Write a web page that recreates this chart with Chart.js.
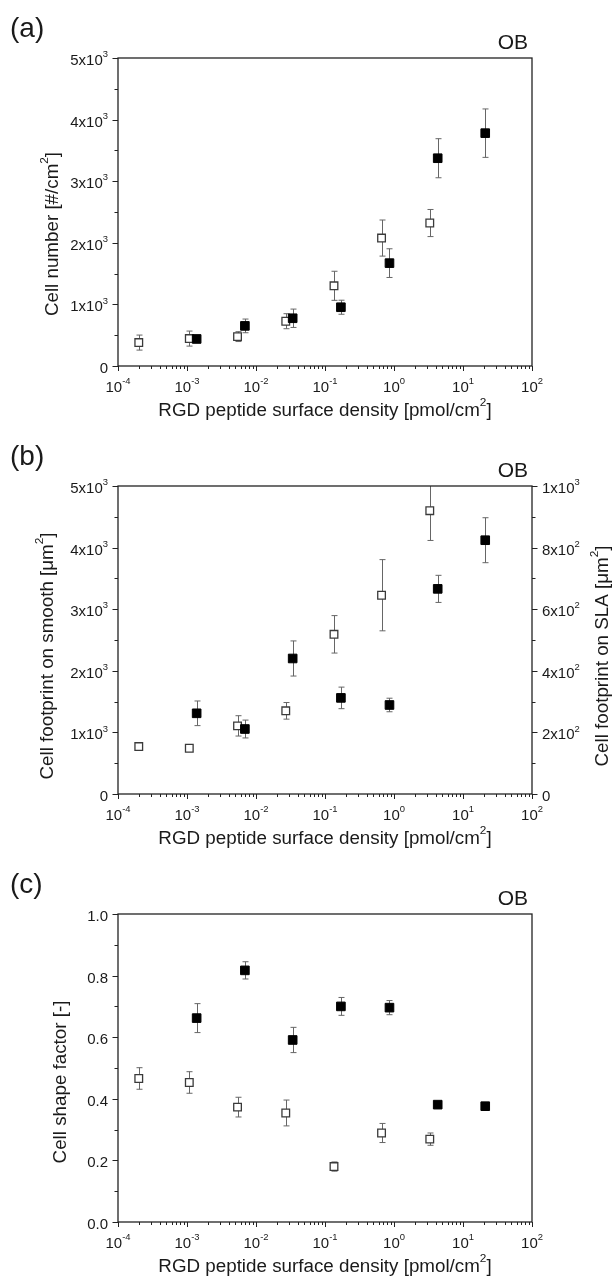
<!DOCTYPE html>
<html>
<head>
<meta charset="utf-8">
<title>OB cell response vs RGD density</title>
<script src="https://cdn.jsdelivr.net/npm/chart.js@4.4.1/dist/chart.umd.min.js"></script>
<style>
  body { margin: 0; background: #fff; }
  .panel { position: absolute; left: 0; width: 612px; height: 428px; }
</style>
</head>
<body>
<div class="panel" style="top:0px"><canvas id="panelA" width="612" height="428"></canvas></div>
<div class="panel" style="top:428px"><canvas id="panelB" width="612" height="428"></canvas></div>
<div class="panel" style="top:856px"><canvas id="panelC" width="612" height="428"></canvas></div>
<script>
// RGD surface density [pmol/cm2] of the samples (open = smooth, filled = SLA)
const smoothX = [2.0e-4, 1.08e-3, 5.4e-3, 2.7e-2, 0.135, 0.66, 3.3];
const slaX = [1.38e-3, 6.9e-3, 3.4e-2, 0.17, 0.86, 4.3, 21];

// (a) cell number [#/cm2]
const countSmooth = [380, 445, 477, 727, 1302, 2077, 2321];
const countSmoothErr = [122, 122, 80, 122, 236, 293, 220];
const countSla = [439, 651, 775, 954, 1670, 3373, 3780];
const countSlaErr = [20, 111, 149, 114, 233, 317, 393];

// (b) cell footprint [um2], smooth on left axis, SLA on right axis
const footSmooth = [770, 743, 1106, 1350, 2592, 3227, 4599];
const footSmoothErr = [15, 15, 165, 135, 304, 578, 483];
const footSla = [262, 211, 440, 312, 289, 666, 824];
const footSlaErr = [40, 29, 57, 35, 22, 44, 73];

// (c) cell shape factor [-]
const shapeSmooth = [0.466, 0.453, 0.373, 0.354, 0.180, 0.289, 0.269];
const shapeSmoothErr = [0.035, 0.035, 0.032, 0.042, 0.015, 0.031, 0.020];
const shapeSla = [0.662, 0.817, 0.591, 0.700, 0.696, 0.381, 0.376];
const shapeSlaErr = [0.047, 0.028, 0.041, 0.029, 0.023, 0.010, 0.010];

// tick labels
const xTicks = [1e-4, 1e-3, 1e-2, 1e-1, 1, 10, 100];
const xTickLabels = ['10^{-4}', '10^{-3}', '10^{-2}', '10^{-1}', '10^{0}', '10^{1}', '10^{2}'];
const bigTicks = [0, 1000, 2000, 3000, 4000, 5000];
const bigTickLabels = ['0', '1x10^{3}', '2x10^{3}', '3x10^{3}', '4x10^{3}', '5x10^{3}'];
const slaTicks = [0, 200, 400, 600, 800, 1000];
const slaTickLabels = ['0', '2x10^{2}', '4x10^{2}', '6x10^{2}', '8x10^{2}', '1x10^{3}'];
const shapeTicks = [0, 0.2, 0.4, 0.6, 0.8, 1.0];
const shapeTickLabels = ['0.0', '0.2', '0.4', '0.6', '0.8', '1.0'];

const xTitle = 'RGD peptide surface density [pmol/cm^{2}]';
const FONT = '"Liberation Sans", Arial, sans-serif';
const INK = '#1a1a1a';
const TITLE_SIZE = 18.8;

// draws text with ^{...} runs as small raised superscripts
function drawRich(ctx, text, x, y, size, align) {
  const runs = [];
  const re = /\^\{([^}]*)\}/g;
  let last = 0, m;
  while ((m = re.exec(text))) {
    if (m.index > last) runs.push({ t: text.slice(last, m.index), sup: false });
    runs.push({ t: m[1], sup: true });
    last = re.lastIndex;
  }
  if (last < text.length) runs.push({ t: text.slice(last), sup: false });
  const fontOf = r => (r.sup ? size * 0.63 : size) + 'px ' + FONT;
  let total = 0;
  runs.forEach(r => { ctx.font = fontOf(r); r.w = ctx.measureText(r.t).width; total += r.w; });
  let cx = align === 'center' ? x - total / 2 : (align === 'right' ? x - total : x);
  ctx.textAlign = 'left';
  ctx.textBaseline = 'alphabetic';
  runs.forEach(r => {
    ctx.font = fontOf(r);
    ctx.fillText(r.t, cx, r.sup ? y - size * 0.52 : y);
    cx += r.w;
  });
}

const errorBars = {
  id: 'errorBars',
  beforeDatasetsDraw(chart) {
    const ctx = chart.ctx, area = chart.chartArea;
    ctx.save();
    ctx.beginPath();
    ctx.rect(area.left, area.top, area.right - area.left, area.bottom - area.top);
    ctx.clip();
    ctx.strokeStyle = '#666';
    ctx.lineWidth = 1;
    chart.data.datasets.forEach(ds => {
      const xs = chart.scales.x, ys = chart.scales[ds.yAxisID];
      ds.data.forEach((p, i) => {
        const e = ds.errors[i];
        const px = Math.round(xs.getPixelForValue(p.x)) + 0.5;
        const top = ys.getPixelForValue(p.y + e);
        const bot = ys.getPixelForValue(p.y - e);
        ctx.beginPath();
        ctx.moveTo(px, top); ctx.lineTo(px, bot);
        ctx.moveTo(px - 3, top); ctx.lineTo(px + 3, top);
        ctx.moveTo(px - 3, bot); ctx.lineTo(px + 3, bot);
        ctx.stroke();
      });
    });
    ctx.restore();
  }
};

const frame = {
  id: 'frame',
  afterDatasetsDraw(chart, args, opts) {
    const ctx = chart.ctx, a = chart.chartArea;
    const xs = chart.scales.x;
    ctx.save();
    ctx.strokeStyle = '#222';
    ctx.lineWidth = 1.3;
    ctx.strokeRect(a.left, a.top, a.right - a.left, a.bottom - a.top);

    // x ticks: decades plus 2..9 minors, pointing down
    ctx.lineWidth = 1;
    ctx.beginPath();
    for (let e = -4; e <= 2; e++) {
      for (let k = 1; k <= 9; k++) {
        const v = k * Math.pow(10, e);
        if (v > xs.max * 1.0001) break;
        const px = Math.round(xs.getPixelForValue(v)) + 0.5;
        ctx.moveTo(px, a.bottom);
        ctx.lineTo(px, a.bottom + (k === 1 ? 5 : 3));
      }
    }
    // y ticks with a minor tick halfway
    opts.yAxes.forEach(ax => {
      const sc = chart.scales[ax.id];
      const dir = ax.id === 'y2' ? 1 : -1;
      const edge = ax.id === 'y2' ? a.right : a.left;
      ax.ticks.forEach((v, i) => {
        const py = Math.round(sc.getPixelForValue(v)) + 0.5;
        ctx.moveTo(edge, py); ctx.lineTo(edge + dir * 5.5, py);
        if (i < ax.ticks.length - 1) {
          const my = Math.round(sc.getPixelForValue((v + ax.ticks[i + 1]) / 2)) + 0.5;
          ctx.moveTo(edge, my); ctx.lineTo(edge + dir * 3.5, my);
        }
      });
    });
    ctx.stroke();

    ctx.fillStyle = INK;
    xTicks.forEach((v, i) => {
      drawRich(ctx, xTickLabels[i], xs.getPixelForValue(v), a.bottom + 25.7, 15, 'center');
    });
    opts.yAxes.forEach(ax => {
      const sc = chart.scales[ax.id];
      ax.ticks.forEach((v, i) => {
        const py = sc.getPixelForValue(v) + 7;
        if (ax.id === 'y2') drawRich(ctx, ax.labels[i], a.right + 10, py, 15, 'left');
        else drawRich(ctx, ax.labels[i], a.left - 10, py, 15, 'right');
      });
      // rotated axis title
      ctx.save();
      ctx.translate(ax.titleX, (a.top + a.bottom) / 2 + ax.shift);
      ctx.rotate(-Math.PI / 2);
      drawRich(ctx, ax.title, 0, 0, TITLE_SIZE, 'center');
      ctx.restore();
    });
    drawRich(ctx, xTitle, (a.left + a.right) / 2, 415.5, TITLE_SIZE, 'center');

    // panel letter and cell type
    ctx.font = '28px ' + FONT;
    ctx.textAlign = 'left';
    ctx.fillText(opts.letter, 10, 36.5);
    ctx.font = '21px ' + FONT;
    ctx.textAlign = 'right';
    ctx.fillText('OB', a.right - 4, 49.3);
    ctx.restore();
  }
};

function series(xs, ys, errs, filled, axisId) {
  return {
    data: xs.map((x, i) => ({ x: x, y: ys[i] })),
    errors: errs,
    yAxisID: axisId,
    pointStyle: 'rect',
    pointRadius: filled ? 6.1 : 5.4,
    backgroundColor: filled ? '#000' : '#fff',
    borderColor: filled ? '#000' : '#3a3a3a',
    borderWidth: filled ? 1 : 1.3,
    showLine: false
  };
}

function hiddenAxis(extra) {
  return Object.assign({
    ticks: { display: false },
    grid: { display: false },
    border: { display: false }
  }, extra);
}

function makePanel(canvasId, letter, datasets, yAxes) {
  const scales = {
    x: hiddenAxis({ type: 'logarithmic', min: 1e-4, max: 100, afterFit: s => { s.height = 62; } })
  };
  yAxes.forEach(ax => {
    scales[ax.id] = hiddenAxis({
      type: 'linear',
      position: ax.id === 'y2' ? 'right' : 'left',
      min: ax.ticks[0],
      max: ax.ticks[ax.ticks.length - 1],
      afterFit: s => { s.width = ax.id === 'y2' ? 80 : 118; }
    });
  });
  const hasRight = yAxes.some(ax => ax.id === 'y2');
  return new Chart(document.getElementById(canvasId), {
    type: 'scatter',
    data: { datasets: datasets },
    options: {
      responsive: false,
      animation: false,
      events: [],
      layout: { padding: { top: 58, left: 0, bottom: 0, right: hasRight ? 0 : 80 } },
      scales: scales,
      plugins: {
        legend: { display: false },
        tooltip: { enabled: false },
        frame: { letter: letter, yAxes: yAxes }
      }
    },
    plugins: [errorBars, frame]
  });
}

makePanel('panelA', '(a)', [
  series(slaX, countSla, countSlaErr, true, 'y'),
  series(smoothX, countSmooth, countSmoothErr, false, 'y')
], [
  { id: 'y', ticks: bigTicks, labels: bigTickLabels, title: 'Cell number [#/cm^{2}]', titleX: 57.5, shift: 22 }
]);

makePanel('panelB', '(b)', [
  series(slaX, footSla, footSlaErr, true, 'y2'),
  series(smoothX, footSmooth, footSmoothErr, false, 'y')
], [
  { id: 'y', ticks: bigTicks, labels: bigTickLabels, title: 'Cell footprint on smooth [μm^{2}]', titleX: 52.5, shift: 16 },
  { id: 'y2', ticks: slaTicks, labels: slaTickLabels, title: 'Cell footprint on SLA [μm^{2}]', titleX: 607.5, shift: 16 }
]);

makePanel('panelC', '(c)', [
  series(slaX, shapeSla, shapeSlaErr, true, 'y'),
  series(smoothX, shapeSmooth, shapeSmoothErr, false, 'y')
], [
  { id: 'y', ticks: shapeTicks, labels: shapeTickLabels, title: 'Cell shape factor [-]', titleX: 65.5, shift: 14 }
]);
</script>
</body>
</html>
